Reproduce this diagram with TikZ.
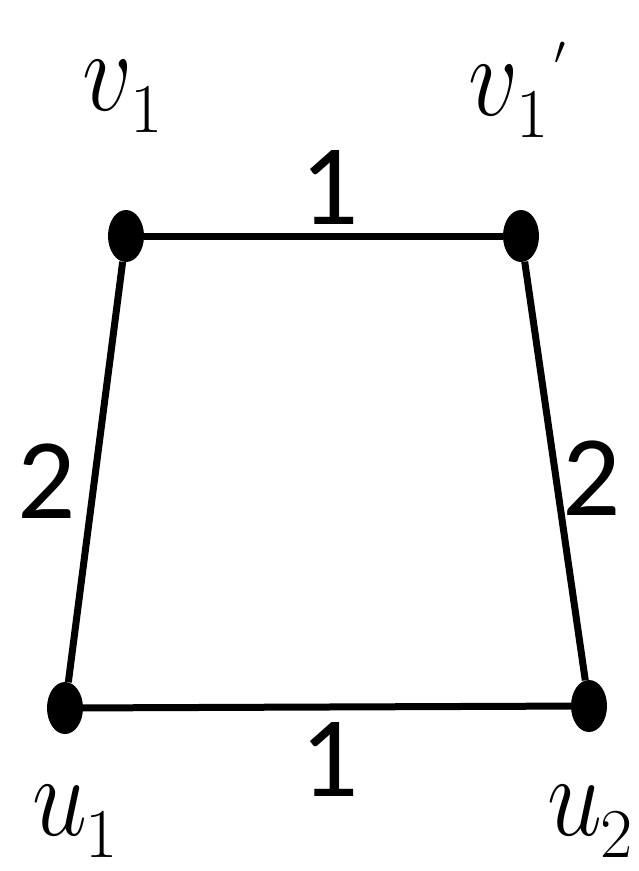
\RequirePackage{fix-cm}
\documentclass[tikz,border=0pt]{standalone}
\usepackage{fontspec}
\usepackage{graphicx}
\usetikzlibrary{shapes.geometric}
\newfontfamily\digitfont{Carlito}
\newcommand\vlabel[2]{\scalebox{0.85}[1]{$#1$}\kern-2pt\raisebox{-22pt}{\fontsize{70}{70}\selectfont #2}}
\newcommand\primemark{\kern6pt\raisebox{51pt}{\fontsize{40}{40}\selectfont$\prime$}}
\begin{document}
\begin{tikzpicture}[x=1pt,y=-1pt,
  vert/.style={ellipse,fill=black,minimum width=36pt,minimum height=52pt,inner sep=0pt},
  edge/.style={line width=7pt},
  vlab/.style={font=\fontsize{116}{116}\selectfont,inner sep=0pt,anchor=base west},
  elab/.style={font=\digitfont\fontsize{115}{115}\selectfont,inner sep=0pt}]
\useasboundingbox (0,0) rectangle (638,871);
\node[vert] (v1) at (126,236) {};
\node[vert] (v1p) at (521,236) {};
\node[vert] (u1) at (65,708) {};
\node[vert] (u2) at (589,706) {};
\draw[edge] (v1) -- (v1p);
\draw[edge] (u1) -- (u2);
\draw[edge] (v1) -- (u1);
\draw[edge] (v1p) -- (u2);
\node[elab] (e1) at (330,187) {1};
\node[elab] (e4) at (330,759) {1};
\node[elab] (e2) at (47,481) {2};
\node[elab] (e3) at (592,478) {2};
\node[vlab] (lv1) at (82,110) {\vlabel{v}{1}};
\node[vlab] (lv1p) at (468,115) {\vlabel{v}{1}\primemark};
\node[vlab] (lu1) at (32,835) {\vlabel{u}{1}};
\node[vlab] (lu2) at (547,835) {\vlabel{u}{2}};
\end{tikzpicture}
\end{document}
